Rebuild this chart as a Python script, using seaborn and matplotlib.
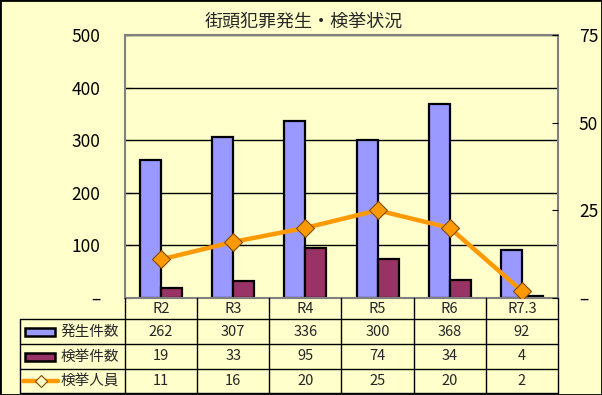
import numpy as np
import pandas as pd
import seaborn as sns
import matplotlib.pyplot as plt
from matplotlib.patches import Rectangle
from matplotlib.lines import Line2D
from matplotlib.transforms import blended_transform_factory

# Data
years = ["R2", "R3", "R4", "R5", "R6", "R7.3"]
occurred = [262, 307, 336, 300, 368, 92]
cleared = [19, 33, 95, 74, 34, 4]
arrested = [11, 16, 20, 25, 20, 2]

series_names = ["発生件数", "検挙件数", "検挙人員"]
left_ticks = [0, 100, 200, 300, 400, 500]
right_ticks = [0, 25, 50, 75]

bg = "#FFFFCC"
blue = "#9999FF"
maroon = "#993366"
orange = "#FF9900"

sns.set_style("white")
plt.rcParams["font.family"] = ["Noto Sans CJK JP", "DejaVu Sans"]

df = pd.DataFrame({
    "year": years * 2,
    "count": occurred + cleared,
    "series": [series_names[0]] * len(years) + [series_names[1]] * len(years),
})

W, H = 602, 395
fig = plt.figure(figsize=(W / 100, H / 100), dpi=100)
fig.patch.set_facecolor(bg)

# plot area in pixels
pl, pr, pt, pb = 125, 558, 35, 298
ax = fig.add_axes([pl / W, 1 - pb / H, (pr - pl) / W, (pb - pt) / H])
ax.set_facecolor(bg)

sns.barplot(
    data=df, x="year", y="count", hue="series",
    palette=[blue, maroon], saturation=1, width=0.58, gap=0,
    edgecolor="black", linewidth=1.6, ax=ax, legend=False,
)
ax.set_axisbelow(True)
ax.set_ylim(0, 500)
ax.set_yticks(left_ticks)
ax.set_yticklabels(["–"] + [str(t) for t in left_ticks[1:]])
ax.yaxis.grid(True, color="black", linewidth=1)
ax.tick_params(axis="y", direction="in", length=4, pad=18, labelsize=12.5, colors="black")
ax.tick_params(axis="x", bottom=False, labelbottom=False)
ax.set_xlabel("")
ax.set_ylabel("")
for s in ax.spines.values():
    s.set_color("#808080")
    s.set_linewidth(1.5)

ax2 = ax.twinx()
sns.lineplot(
    x=np.arange(len(years)), y=arrested, ax=ax2, color=orange,
    linewidth=3.2, marker="D", markersize=9,
    markerfacecolor=orange, markeredgecolor="#7F4C00", markeredgewidth=0.8,
)
ax2.set_ylim(0, 75)
ax2.set_yticks(right_ticks)
ax2.set_yticklabels(["–"] + [str(t) for t in right_ticks[1:]])
ax2.tick_params(axis="y", direction="in", length=4, pad=15, labelsize=12.5, colors="black")
ax2.set_ylabel("")
for s in ax2.spines.values():
    s.set_visible(False)
ax.set_xlim(-0.5, len(years) - 0.5)

fig.text(0.505, 1 - 22 / H, "街頭犯罪発生・検挙状況", ha="center", va="center", fontsize=13)

# data table below the plot
tl, tt, tb = 20, pb, 393
tax = fig.add_axes([tl / W, 1 - tb / H, (pr - tl) / W, (tb - tt) / H])
tax.set_xlim(tl, pr)
tax.set_ylim(tb - tt, 0)
tax.axis("off")
tr = blended_transform_factory(ax.transData, tax.transData)

rows = [21, 46, 71, 95]
for y in rows:
    tax.plot([tl, pr], [y, y], color="black", lw=1, clip_on=False)
tax.plot([tl, tl], [rows[0], rows[-1]], color="black", lw=1, clip_on=False)
for i in range(len(years) + 1):
    tax.plot([i - 0.5, i - 0.5], [0, rows[-1]], color="black", lw=1,
             transform=tr, clip_on=False)

for i, yr in enumerate(years):
    tax.text(i, rows[0] / 2 + 0.5, yr, transform=tr, ha="center", va="center", fontsize=10.5)

values = [occurred, cleared, arrested]
for r, vals in enumerate(values):
    yc = (rows[r] + rows[r + 1]) / 2
    for i, v in enumerate(vals):
        tax.text(i, yc, str(v), transform=tr, ha="center", va="center", fontsize=10.5)
    tax.text(61, yc, series_names[r], ha="left", va="center", fontsize=10.5)
    if r < 2:
        tax.add_patch(Rectangle((25, yc - 4), 30, 8, facecolor=[blue, maroon][r],
                                edgecolor="black", lw=1.8))
    else:
        tax.add_line(Line2D([23, 58], [yc, yc], color=orange, lw=3.2))
        tax.add_line(Line2D([40.5], [yc], marker="D", markersize=6,
                            markerfacecolor=bg, markeredgecolor="#7F4C00",
                            markeredgewidth=0.8, color=orange))

# outer border
fig.add_artist(Rectangle((0, 0), 1, 1, transform=fig.transFigure, fill=False,
                         edgecolor="black", lw=2))

fig.savefig("out.png", dpi=100, facecolor=bg)
